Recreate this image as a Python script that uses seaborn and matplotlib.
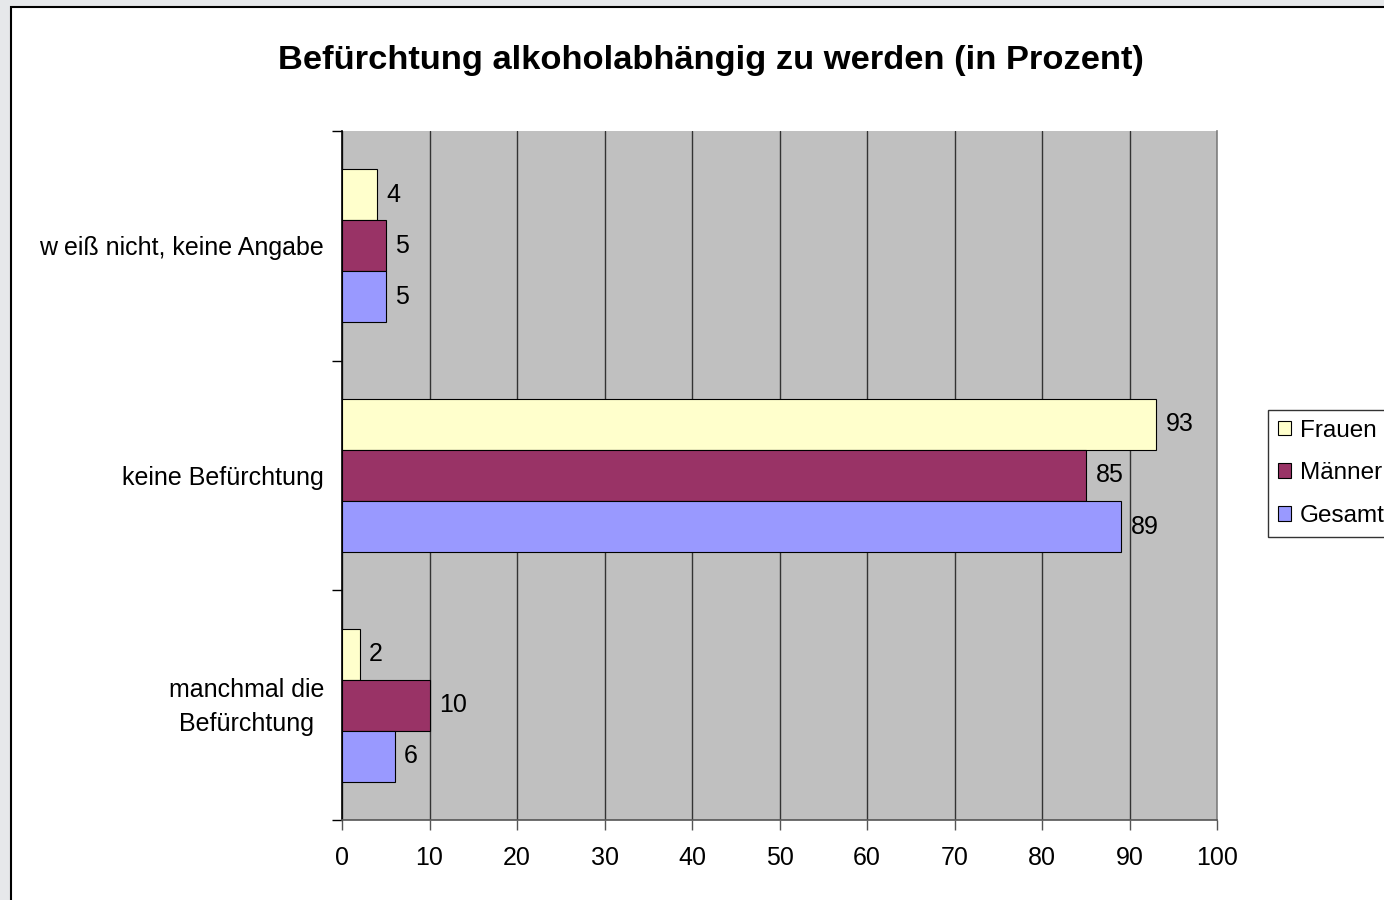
import pandas as pd
import seaborn as sns
import matplotlib.pyplot as plt
import matplotlib.transforms as mtransforms
from matplotlib.patches import Rectangle
from matplotlib.ticker import FixedLocator, NullFormatter

# Data
categories = ['w eiß nicht, keine Angabe', 'keine Befürchtung', 'manchmal die\nBefürchtung']
groups = ['Frauen', 'Männer', 'Gesamt']
frauen = [4, 93, 2]
maenner = [5, 85, 10]
gesamt = [5, 89, 6]

colors = {'Frauen': '#FFFFCC', 'Männer': '#993366', 'Gesamt': '#9999FF'}

rows = []
for grp, vals in zip(groups, [frauen, maenner, gesamt]):
    for cat, v in zip(categories, vals):
        rows.append({'Kategorie': cat, 'Gruppe': grp, 'Wert': v})
df = pd.DataFrame(rows)

sns.set_style('white')
plt.rcParams['font.family'] = ['Liberation Sans', 'DejaVu Sans']
plt.rcParams['text.color'] = 'black'
plt.rcParams['xtick.color'] = 'black'
plt.rcParams['ytick.color'] = 'black'
plt.rcParams['xtick.labelcolor'] = 'black'
plt.rcParams['ytick.labelcolor'] = 'black'

fig = plt.figure(figsize=(13.84, 9), dpi=100, facecolor='#E6E8EA')
# white chart area with black border (runs off the right/bottom edge)
fig.patches.append(Rectangle((11 / 1384, -0.05), 1.2, 1 - 7 / 900 + 0.05,
                             transform=fig.transFigure, facecolor='white',
                             edgecolor='black', linewidth=1.5, zorder=-5))

ax = fig.add_axes([342 / 1384, 1 - 820 / 900, (1217 - 342) / 1384, (820 - 131) / 900])
ax.set_facecolor('#C0C0C0')

sns.barplot(data=df, y='Kategorie', x='Wert', hue='Gruppe', order=categories,
            hue_order=groups, palette=colors, orient='h', width=0.667,
            edgecolor='black', linewidth=0.8, saturation=1, ax=ax, zorder=3)

for cont in ax.containers:
    ax.bar_label(cont, padding=7, fontsize=18, color='black')

ax.set_xlim(0, 100)
ax.set_ylim(2.5, -0.5)
ax.set_xticks(range(0, 101, 10))
ax.xaxis.grid(True, color='#333333', linewidth=1)
ax.set_axisbelow(True)
ax.yaxis.set_minor_locator(FixedLocator([-0.5, 0.5, 1.5, 2.5]))
ax.yaxis.set_minor_formatter(NullFormatter())
ax.tick_params(axis='y', which='both', left=True)
ax.tick_params(axis='x', which='both', bottom=True)
ax.tick_params(axis='y', which='major', length=0, pad=13, labelsize=18)
ax.tick_params(axis='y', which='minor', length=7, width=1, color='black', direction='out')
ax.tick_params(axis='x', length=7, width=1, color='#555555', direction='out',
               pad=12, labelsize=18)
for lbl in ax.get_yticklabels():
    lbl.set_horizontalalignment('right')
    lbl.set_multialignment('center')
    lbl.set_linespacing(1.55)
# the two-line label sits a little above the group centre in the original
two_line = ax.get_yticklabels()[2]
two_line.set_transform(two_line.get_transform()
                       + mtransforms.ScaledTranslation(0, 6 / 100, fig.dpi_scale_trans))
ax.set_xlabel('')
ax.set_ylabel('')
ax.spines['left'].set_color('black')
ax.spines['bottom'].set_color('#555555')
ax.spines['right'].set_color('#808080')
ax.spines['top'].set_visible(False)
for s in ax.spines.values():
    s.set_linewidth(1.2)

ax.legend_.remove()
handles = [Rectangle((0, 0), 1, 1, facecolor=colors[g], edgecolor='black', linewidth=0.8)
           for g in groups]
fig.legend(handles, groups, loc='upper left', bbox_to_anchor=(1268 / 1384, 1 - 410 / 900),
           frameon=True, fancybox=False, edgecolor='black', fontsize=17.5,
           handlelength=0.55, handleheight=0.55, handletextpad=0.36,
           labelspacing=0.85, borderpad=0.4, borderaxespad=0)

fig.text(0.514, 1 - 61 / 900, 'Befürchtung alkoholabhängig zu werden (in Prozent)',
         ha='center', va='center', fontsize=24.8, fontweight='bold')

plt.savefig('out.png', dpi=100, facecolor=fig.get_facecolor())
